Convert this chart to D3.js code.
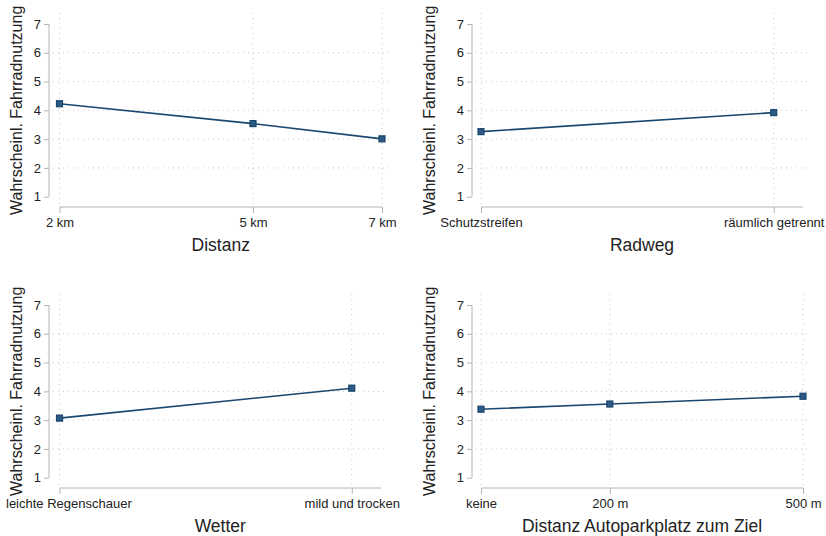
<!DOCTYPE html>
<html>
<head>
<meta charset="utf-8">
<script src="https://cdn.jsdelivr.net/npm/d3@7"></script>
<style>
  body { margin: 0; background: #fff; }
  svg text { font-family: "Liberation Sans", Arial, sans-serif; fill: #222; }
</style>
</head>
<body>
<div id="chart"></div>
<script>
// Predicted values (with tiny confidence intervals) per attribute level
var distanzLabels = ["2 km", "5 km", "7 km"];
var distanzX      = [2, 5, 7];
var distanzMean   = [4.23, 3.54, 3.01];
var distanzCI     = [0.05, 0.05, 0.05];

var radwegLabels  = ["Schutzstreifen", "räumlich getrennt"];
var radwegX       = [0, 1];
var radwegMean    = [3.26, 3.92];
var radwegCI      = [0.05, 0.05];

var wetterLabels  = ["leichte Regenschauer", "mild und trocken"];
var wetterX       = [0, 1];
var wetterMean    = [3.07, 4.11];
var wetterCI      = [0.05, 0.05];

var parkLabels    = ["keine", "200 m", "500 m"];
var parkX         = [0, 200, 500];
var parkMean      = [3.38, 3.56, 3.83];
var parkCI        = [0.05, 0.05, 0.05];

var yTicks = [1, 2, 3, 4, 5, 6, 7];
var yTitle = "Wahrscheinl. Fahrradnutzung";

var width  = 826;
var height = 536;
var navy   = "#1a476f";
var axisGray = "#b4b4b4";
var gridGray = "#c8c8c8";

var svg = d3.select("div#chart")
            .append("svg")
            .attr("width", width)
            .attr("height", height);

var panels = [
  { title: "Distanz", labels: distanzLabels, x: distanzX, mean: distanzMean, ci: distanzCI,
    dx: 0, dy: 0, yAxisX: 49, x0: 59.5, x1: 382, domain: [2, 7] },
  { title: "Radweg", labels: radwegLabels, x: radwegX, mean: radwegMean, ci: radwegCI,
    dx: 413, dy: 0, yAxisX: 472, x0: 481, x1: 803, domain: [0, 1.1] },
  { title: "Wetter", labels: wetterLabels, x: wetterX, mean: wetterMean, ci: wetterCI,
    dx: 0, dy: 281, yAxisX: 49, x0: 59.5, x1: 381, domain: [0, 1.1] },
  { title: "Distanz Autoparkplatz zum Ziel", labels: parkLabels, x: parkX, mean: parkMean, ci: parkCI,
    dx: 413, dy: 281, yAxisX: 472, x0: 481, x1: 803, domain: [0, 500] }
];

panels.forEach(drawPanel);

function drawPanel(p) {
  var g = svg.append("g").attr("transform", "translate(0," + p.dy + ")");

  var y = d3.scaleLinear().domain([1, 7]).range([196.7, 24]);
  var x = d3.scaleLinear().domain(p.domain).range([p.x0, p.x1]);
  var gridRight = p.x1 + 7;
  var gridTop = 13;

  // dotted grid lines
  g.append("g").selectAll("line.hgrid")
    .data(yTicks.slice(1, -1))
    .enter().append("line")
    .attr("x1", p.yAxisX + 4).attr("x2", gridRight)
    .attr("y1", function(d) { return y(d); })
    .attr("y2", function(d) { return y(d); })
    .attr("stroke", gridGray).attr("stroke-width", 1)
    .attr("stroke-dasharray", "1,4");

  g.append("g").selectAll("line.vgrid")
    .data(p.x)
    .enter().append("line")
    .attr("x1", function(d) { return x(d); })
    .attr("x2", function(d) { return x(d); })
    .attr("y1", gridTop).attr("y2", 204)
    .attr("stroke", gridGray).attr("stroke-width", 1)
    .attr("stroke-dasharray", "1,4");

  // y axis
  var yAxis = g.append("g")
    .attr("transform", "translate(" + p.yAxisX + ",0)")
    .call(d3.axisLeft(y).tickValues(yTicks).tickSize(5).tickPadding(3).tickFormat(d3.format("d")));
  yAxis.select(".domain").attr("d", "M0," + y(1) + "V" + y(7)).attr("stroke", axisGray);
  yAxis.selectAll(".tick line").attr("stroke", axisGray);
  yAxis.selectAll(".tick text").style("font-size", "13px").attr("fill", "#222");

  // x axis
  var xAxis = g.append("g")
    .attr("transform", "translate(0,207)")
    .call(d3.axisBottom(x).tickValues(p.x).tickSize(6).tickPadding(5)
      .tickFormat(function(d, i) { return p.labels[i]; }));
  xAxis.select(".domain").attr("d", "M" + p.x0 + ",0H" + p.x1).attr("stroke", axisGray);
  xAxis.selectAll(".tick line").attr("stroke", axisGray);
  xAxis.selectAll(".tick text").style("font-size", "13px").attr("fill", "#222")
    .each(function() {
      // nudge labels that would run past the panel's left edge
      var t = d3.select(this);
      var b = this.getBBox();
      var tr = this.parentNode.getAttribute("transform");
      var tx = +tr.match(/translate\(([-\d.]+)/)[1];
      var left = tx + b.x;
      if (left < p.dx + 6) t.attr("x", p.dx + 6 - left);
    });

  // axis titles
  g.append("text")
    .attr("transform", "translate(" + (p.dx + 22) + "," + ((y(1) + y(7)) / 2) + ") rotate(-90)")
    .attr("text-anchor", "middle")
    .style("font-size", "16px")
    .text(yTitle);

  g.append("text")
    .attr("x", (p.x0 + p.x1) / 2)
    .attr("y", 251)
    .attr("text-anchor", "middle")
    .style("font-size", "17.5px")
    .text(p.title);

  // data
  var pts = p.x.map(function(d, i) { return { x: d, m: p.mean[i], ci: p.ci[i] }; });

  g.append("path")
    .datum(pts)
    .attr("fill", "none")
    .attr("stroke", navy)
    .attr("stroke-width", 1.6)
    .attr("d", d3.line().x(function(d) { return x(d.x); }).y(function(d) { return y(d.m); }));

  var bars = g.append("g").selectAll("g.ci").data(pts).enter().append("g");
  bars.append("line")
    .attr("x1", function(d) { return x(d.x); }).attr("x2", function(d) { return x(d.x); })
    .attr("y1", function(d) { return y(d.m - d.ci); }).attr("y2", function(d) { return y(d.m + d.ci); })
    .attr("stroke", navy).attr("stroke-width", 1);
  [-1, 1].forEach(function(s) {
    bars.append("line")
      .attr("x1", function(d) { return x(d.x) - 3; }).attr("x2", function(d) { return x(d.x) + 3; })
      .attr("y1", function(d) { return y(d.m + s * d.ci); }).attr("y2", function(d) { return y(d.m + s * d.ci); })
      .attr("stroke", navy).attr("stroke-width", 1);
  });

  g.append("g").selectAll("rect")
    .data(pts)
    .enter().append("rect")
    .attr("x", function(d) { return x(d.x) - 3; })
    .attr("y", function(d) { return y(d.m) - 3; })
    .attr("width", 6).attr("height", 6)
    .attr("fill", "#2d5a85")
    .attr("stroke", navy).attr("stroke-width", 1.2);
}
</script>
</body>
</html>
